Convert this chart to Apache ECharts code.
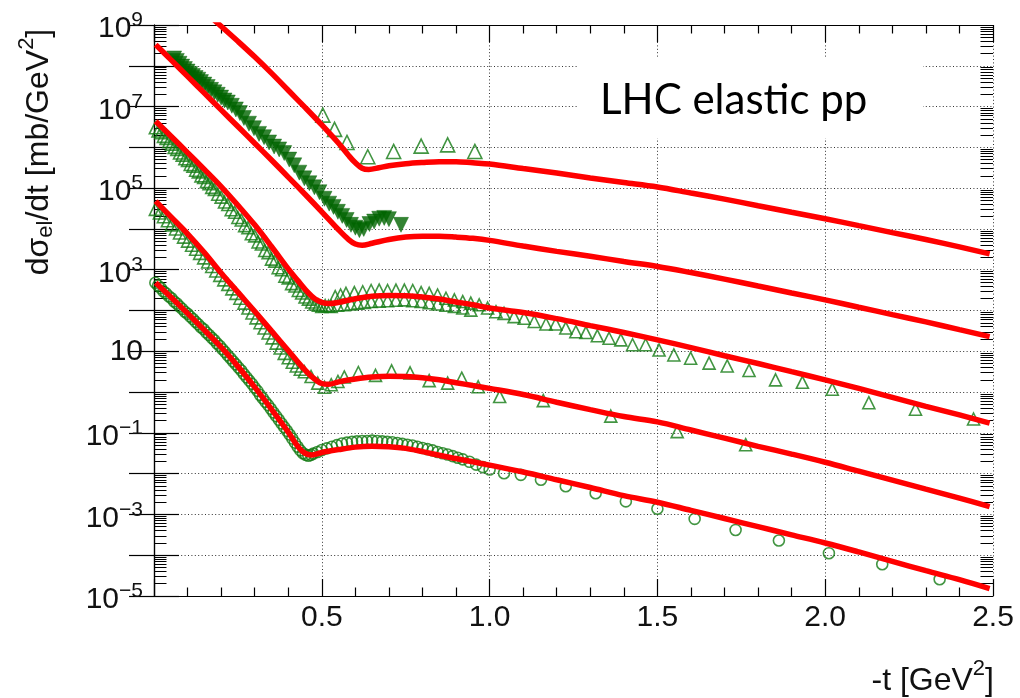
<!DOCTYPE html>
<html>
<head>
<meta charset="utf-8">
<script src="https://cdn.jsdelivr.net/npm/echarts@6/dist/echarts.min.js"></script>
<style>
  html, body { margin: 0; padding: 0; background: #ffffff; }
  #chart { width: 1020px; height: 698px; }
</style>
</head>
<body>
<div id="chart"></div>
<script>
// Elastic pp differential cross sections at LHC energies.
// Each point is [-t in GeV^2, log10(dsigma/dt in mb/GeV^2)]; curves are shifted by powers of ten.

const xTicks = [0, 0.5, 1.0, 1.5, 2.0, 2.5];
const yDecades = [-5, -4, -3, -2, -1, 0, 1, 2, 3, 4, 5, 6, 7, 8, 9];
const yLabelDecades = [9, 7, 5, 3, 1, -1, -3, -5];
const minorMantissas = [2, 3, 4, 5, 6, 7, 8, 9];

// model curves
const fit1 = [[0.17,9.19],[0.2,8.97],[0.25,8.6],[0.3,8.22],[0.35,7.82],[0.4,7.4],[0.45,6.98],[0.5,6.55],[0.55,6.1],[0.58,5.8],[0.6,5.62],[0.62,5.49],[0.64,5.46],[0.67,5.5],[0.7,5.55],[0.75,5.6],[0.8,5.63],[0.85,5.65],[0.9,5.65],[0.95,5.62],[1.0,5.59],[1.1,5.48],[1.2,5.37],[1.3,5.25],[1.4,5.14],[1.5,5.03],[1.6,4.88],[1.7,4.73],[1.8,4.57],[1.9,4.41],[2.0,4.25],[2.1,4.08],[2.2,3.91],[2.3,3.74],[2.4,3.56],[2.49,3.39]];
const fit2 = [[0.005,8.52],[0.05,8.15],[0.1,7.74],[0.15,7.33],[0.2,6.92],[0.25,6.51],[0.3,6.1],[0.35,5.69],[0.4,5.27],[0.45,4.85],[0.5,4.42],[0.55,3.98],[0.58,3.74],[0.6,3.63],[0.62,3.6],[0.65,3.65],[0.7,3.74],[0.75,3.8],[0.8,3.82],[0.85,3.82],[0.9,3.8],[0.95,3.77],[1.0,3.72],[1.1,3.58],[1.2,3.45],[1.3,3.33],[1.4,3.2],[1.5,3.08],[1.6,2.93],[1.7,2.77],[1.8,2.6],[1.9,2.43],[2.0,2.26],[2.1,2.08],[2.2,1.9],[2.3,1.72],[2.4,1.53],[2.49,1.36]];
const fit3 = [[0.005,6.64],[0.05,6.28],[0.1,5.87],[0.15,5.46],[0.2,5.04],[0.25,4.58],[0.3,4.1],[0.35,3.57],[0.4,3.02],[0.43,2.72],[0.46,2.43],[0.48,2.28],[0.5,2.2],[0.52,2.17],[0.55,2.2],[0.6,2.29],[0.65,2.35],[0.7,2.37],[0.75,2.36],[0.8,2.33],[0.85,2.28],[0.9,2.21],[0.95,2.14],[1.0,2.06],[1.1,1.95],[1.2,1.8],[1.3,1.63],[1.4,1.46],[1.5,1.28],[1.6,1.09],[1.7,0.89],[1.8,0.7],[1.9,0.5],[2.0,0.3],[2.1,0.09],[2.2,-0.13],[2.3,-0.35],[2.4,-0.56],[2.49,-0.76]];
const fit4 = [[0.005,4.68],[0.05,4.3],[0.1,3.88],[0.15,3.42],[0.2,2.92],[0.25,2.45],[0.3,1.98],[0.35,1.5],[0.4,1.02],[0.44,0.63],[0.47,0.38],[0.5,0.21],[0.52,0.19],[0.55,0.25],[0.6,0.32],[0.65,0.37],[0.7,0.39],[0.75,0.38],[0.8,0.35],[0.85,0.3],[0.9,0.23],[0.95,0.16],[1.0,0.09],[1.1,-0.06],[1.2,-0.25],[1.3,-0.43],[1.4,-0.6],[1.5,-0.73],[1.6,-0.93],[1.7,-1.13],[1.8,-1.33],[1.9,-1.52],[2.0,-1.72],[2.1,-1.94],[2.2,-2.16],[2.3,-2.38],[2.4,-2.6],[2.49,-2.81]];
const fit5 = [[0.005,2.68],[0.05,2.33],[0.1,1.93],[0.15,1.52],[0.2,1.1],[0.25,0.63],[0.3,0.12],[0.35,-0.42],[0.4,-0.98],[0.43,-1.35],[0.45,-1.5],[0.47,-1.54],[0.5,-1.48],[0.55,-1.41],[0.6,-1.35],[0.65,-1.33],[0.7,-1.34],[0.75,-1.38],[0.8,-1.46],[0.85,-1.55],[0.9,-1.63],[0.95,-1.71],[1.0,-1.79],[1.1,-1.96],[1.2,-2.15],[1.3,-2.34],[1.4,-2.54],[1.5,-2.7],[1.6,-2.9],[1.7,-3.1],[1.8,-3.3],[1.9,-3.5],[2.0,-3.7],[2.1,-3.92],[2.2,-4.15],[2.3,-4.38],[2.4,-4.6],[2.49,-4.82]];

// measurements
const data1 = [[0.503,6.79],[0.538,6.44],[0.575,6.12],[0.637,5.77],[0.714,5.90],[0.796,6.03],[0.875,6.06],[0.956,5.90]];
const data2 = [[0.060,8.18],[0.068,8.12],[0.076,8.05],[0.084,7.98],[0.092,7.92],[0.100,7.86],[0.108,7.80],[0.116,7.75],[0.124,7.70],[0.132,7.66],[0.140,7.60],[0.150,7.54],[0.160,7.48],[0.170,7.41],[0.180,7.35],[0.190,7.29],[0.200,7.22],[0.210,7.15],[0.220,7.10],[0.232,7.02],[0.244,6.93],[0.256,6.84],[0.268,6.72],[0.283,6.58],[0.298,6.47],[0.313,6.33],[0.328,6.25],[0.343,6.12],[0.358,6.02],[0.373,5.95],[0.388,5.86],[0.403,5.70],[0.418,5.56],[0.433,5.38],[0.448,5.24],[0.463,5.12],[0.478,5.02],[0.493,4.90],[0.508,4.74],[0.522,4.62],[0.535,4.54],[0.548,4.42],[0.561,4.32],[0.574,4.22],[0.587,4.10],[0.600,4.03],[0.612,3.97],[0.625,4.00],[0.642,4.12],[0.656,4.18],[0.671,4.25],[0.686,4.27],[0.700,4.24],[0.736,4.10]];
const data3 = [[0.004,6.48],[0.012,6.40],[0.020,6.36],[0.028,6.27],[0.036,6.22],[0.044,6.14],[0.052,6.08],[0.060,6.00],[0.068,5.95],[0.076,5.86],[0.084,5.81],[0.092,5.72],[0.100,5.68],[0.108,5.58],[0.116,5.54],[0.124,5.44],[0.132,5.40],[0.140,5.30],[0.148,5.26],[0.156,5.16],[0.164,5.11],[0.172,5.02],[0.180,4.97],[0.190,4.85],[0.200,4.78],[0.210,4.66],[0.220,4.60],[0.230,4.47],[0.240,4.41],[0.250,4.28],[0.260,4.22],[0.270,4.08],[0.280,4.03],[0.290,3.88],[0.300,3.83],[0.310,3.68],[0.320,3.63],[0.330,3.47],[0.340,3.42],[0.350,3.26],[0.360,3.21],[0.370,3.05],[0.380,3.00],[0.390,2.84],[0.400,2.80],[0.410,2.66],[0.420,2.60],[0.430,2.49],[0.440,2.43],[0.450,2.33],[0.460,2.28],[0.470,2.21],[0.480,2.16],[0.490,2.13],[0.500,2.10],[0.510,2.12],[0.520,2.11],
  [0.528,2.10],[0.547,2.13],[0.567,2.14],[0.587,2.16],[0.607,2.18],[0.627,2.20],[0.647,2.22],[0.671,2.23],[0.696,2.24],[0.721,2.25],[0.746,2.26],[0.771,2.24],[0.796,2.22],[0.820,2.19],[0.845,2.16],[0.870,2.13],[0.895,2.10],[0.920,2.06],[0.944,2.01],
  [0.540,2.34],[0.556,2.38],[0.572,2.42],[0.597,2.44],[0.622,2.46],[0.647,2.49],[0.671,2.50],[0.696,2.49],[0.721,2.50],[0.746,2.50],[0.771,2.49],[0.796,2.44],[0.820,2.42],[0.845,2.38],[0.870,2.30],[0.895,2.26],[0.920,2.22],[0.944,2.18],[0.969,2.14],[0.994,2.06],[1.019,1.97],[1.043,1.93],[1.073,1.85],[1.103,1.81],[1.133,1.73],
  [1.168,1.67],[1.197,1.67],[1.227,1.57],[1.257,1.48],[1.287,1.46],[1.321,1.38],[1.356,1.32],[1.391,1.28],[1.426,1.16],[1.465,1.16],[1.505,1.03],[1.549,0.91],[1.599,0.83],[1.654,0.71],[1.708,0.64],[1.773,0.53],[1.852,0.30],[1.932,0.24],[2.021,0.07],[2.130,-0.26],[2.269,-0.42],[2.442,-0.66]];
const data4 = [[0.004,4.48],[0.016,4.39],[0.028,4.30],[0.040,4.20],[0.052,4.10],[0.064,4.00],[0.076,3.90],[0.088,3.80],[0.100,3.70],[0.112,3.60],[0.124,3.50],[0.136,3.40],[0.148,3.29],[0.160,3.19],[0.172,3.08],[0.184,2.97],[0.196,2.86],[0.208,2.75],[0.220,2.64],[0.232,2.53],[0.244,2.42],[0.256,2.30],[0.268,2.18],[0.280,2.06],[0.292,1.94],[0.304,1.82],[0.316,1.70],[0.328,1.57],[0.340,1.45],[0.352,1.33],[0.364,1.20],[0.376,1.08],[0.388,0.95],[0.400,0.84],[0.412,0.73],[0.424,0.64],[0.436,0.56],
  [0.448,0.50],[0.468,0.38],[0.488,0.22],[0.508,0.12],[0.528,0.18],[0.548,0.26],[0.567,0.37],[0.609,0.48],[0.660,0.41],[0.708,0.52],[0.763,0.47],[0.820,0.28],[0.875,0.22],[0.917,0.34],[0.966,0.13],[1.030,-0.11],[1.160,-0.21],[1.361,-0.59],[1.559,-0.97],[1.763,-1.29]];
const data5 = [[0.004,2.68],[0.012,2.61],[0.020,2.55],[0.028,2.47],[0.036,2.42],[0.044,2.35],[0.052,2.30],[0.060,2.22],[0.068,2.17],[0.076,2.10],[0.084,2.04],[0.092,1.97],[0.100,1.92],[0.108,1.85],[0.116,1.79],[0.124,1.72],[0.132,1.66],[0.140,1.59],[0.148,1.54],[0.156,1.46],[0.164,1.40],[0.172,1.33],[0.180,1.27],[0.188,1.19],[0.196,1.13],[0.204,1.05],[0.212,0.98],[0.220,0.90],[0.228,0.83],[0.236,0.75],[0.244,0.68],[0.252,0.60],[0.260,0.53],[0.268,0.44],[0.276,0.36],[0.284,0.28],[0.292,0.20],[0.300,0.11],[0.308,0.03],[0.316,-0.07],[0.324,-0.15],[0.332,-0.24],[0.340,-0.32],[0.348,-0.41],[0.356,-0.50],[0.364,-0.59],[0.372,-0.68],[0.380,-0.77],[0.388,-0.86],[0.396,-0.95],[0.404,-1.04],[0.412,-1.14],[0.420,-1.24],[0.428,-1.34],[0.436,-1.43],[0.444,-1.50],[0.452,-1.54],[0.460,-1.56],[0.468,-1.54],
  [0.475,-1.51],[0.487,-1.47],[0.500,-1.42],[0.515,-1.38],[0.530,-1.34],[0.545,-1.30],[0.560,-1.26],[0.575,-1.24],[0.590,-1.22],[0.605,-1.21],[0.620,-1.20],[0.635,-1.20],[0.650,-1.19],[0.665,-1.20],[0.680,-1.21],[0.695,-1.22],[0.710,-1.23],[0.725,-1.25],[0.740,-1.27],[0.755,-1.29],[0.770,-1.31],[0.785,-1.34],[0.800,-1.37],[0.815,-1.40],[0.830,-1.43],[0.845,-1.47],[0.860,-1.50],[0.875,-1.53],[0.890,-1.57],[0.905,-1.61],[0.920,-1.65],[0.940,-1.71],[0.960,-1.78],[0.980,-1.84],[1.000,-1.90],
  [1.043,-1.99],[1.093,-2.03],[1.153,-2.15],[1.227,-2.31],[1.316,-2.48],[1.406,-2.68],[1.500,-2.86],[1.611,-3.11],[1.733,-3.38],[1.862,-3.64],[2.011,-3.95],[2.170,-4.22],[2.341,-4.59]];

const GREEN = '#137a13';
const DARK_GREEN = '#006400';
const RED = '#ff0000';
const LABEL_FONT = '"Liberation Sans", Arial, Helvetica, sans-serif';

const toLin = pts => pts.map(p => [p[0], Math.pow(10, p[1])]);
const decadeValues = yDecades.map(d => Math.pow(10, d));
const labelValues = yLabelDecades.map(d => Math.pow(10, d));
const minorValues = [];
yDecades.slice(0, -1).forEach(d => minorMantissas.forEach(m => minorValues.push(m * Math.pow(10, d))));

const gridLine = { show: true, lineStyle: { color: '#333333', width: 1, type: [1, 2.4] } };

function fitSeries(name, pts) {
  return {
    name, type: 'line', data: toLin(pts), showSymbol: false, smooth: 0.35, clip: true,
    lineStyle: { color: RED, width: 5.5 }, z: 5, silent: true
  };
}
function dataSeries(name, pts, symbol, size, filled, rotate) {
  return {
    name, type: 'scatter', data: toLin(pts), symbol, symbolSize: size, symbolRotate: rotate || 0,
    itemStyle: filled ? { color: DARK_GREEN, borderColor: DARK_GREEN, borderWidth: 0.5 }
                      : { color: 'rgba(0,0,0,0)', borderColor: GREEN, borderWidth: 1.6 },
    z: 3, silent: true
  };
}

const xBase = {
  type: 'value', min: 0, max: 2.5, interval: 0.5, gridIndex: 0,
  axisLine: { show: true, lineStyle: { color: '#000', width: 1.2 } },
  axisTick: { show: true, inside: true, length: 17, lineStyle: { color: '#000', width: 1.2 } },
  minorTick: { show: true, splitNumber: 5, length: 8.5, lineStyle: { color: '#000', width: 1.2 } }
};
const yBase = {
  type: 'log', logBase: 10, min: 1e-5, max: 1e9, gridIndex: 0
};

const chart = echarts.init(document.getElementById('chart'), null, { renderer: 'canvas' });
chart.setOption({
  animation: false,
  backgroundColor: '#ffffff',
  grid: { left: 154, top: 25, width: 839, height: 571, containLabel: false },
  xAxis: [
    Object.assign({}, xBase, {
      position: 'bottom',
      splitLine: gridLine,
      axisLabel: {
        show: true, margin: 7, color: '#111', fontSize: 30, fontFamily: LABEL_FONT,
        formatter: v => (v === 0 ? '' : v.toFixed(1))
      }
    }),
    Object.assign({}, xBase, {
      position: 'top', splitLine: { show: false }, axisLabel: { show: false }
    })
  ],
  yAxis: [
    Object.assign({}, yBase, {
      position: 'left',
      axisLine: { show: true, lineStyle: { color: '#000', width: 1.2 } },
      axisTick: { show: true, inside: true, length: 25, customValues: decadeValues, lineStyle: { color: '#000', width: 1.2 } },
      splitLine: gridLine,
      axisLabel: {
        show: true, margin: 11, customValues: labelValues, color: '#111', fontFamily: LABEL_FONT,
        formatter: v => {
          const e = Math.round(Math.log10(v));
          if (e === 1) return '{p|10}';
          const s = e < 0 ? '\u2212' + (-e) : String(e);
          return '{m|10}{s|' + s + '}';
        },
        rich: {
          p: { fontSize: 30, fontFamily: LABEL_FONT, color: '#111' },
          m: { fontSize: 30, lineHeight: 30, fontFamily: LABEL_FONT, color: '#111', padding: [8, 0, 0, 0] },
          s: { fontSize: 21, lineHeight: 21, fontFamily: LABEL_FONT, color: '#111', padding: [4, 0, 13, 0] }
        }
      }
    }),
    Object.assign({}, yBase, {
      position: 'right',
      axisLine: { show: true, lineStyle: { color: '#000', width: 1.2 } },
      axisTick: { show: true, inside: true, length: 25, customValues: decadeValues, lineStyle: { color: '#000', width: 1.2 } },
      splitLine: { show: false }, axisLabel: { show: false }
    }),
    Object.assign({}, yBase, {
      position: 'left',
      axisLine: { show: false },
      axisTick: { show: true, inside: true, length: 12.5, customValues: minorValues, lineStyle: { color: '#000', width: 1 } },
      splitLine: { show: false }, axisLabel: { show: false }
    }),
    Object.assign({}, yBase, {
      position: 'right',
      axisLine: { show: false },
      axisTick: { show: true, inside: true, length: 12.5, customValues: minorValues, lineStyle: { color: '#000', width: 1 } },
      splitLine: { show: false }, axisLabel: { show: false }
    })
  ],
  series: [
    dataSeries('data1', data1, 'triangle', 14, false),
    dataSeries('data2', data2, 'triangle', 15, true, 180),
    dataSeries('data3', data3, 'triangle', 12, false),
    dataSeries('data4', data4, 'triangle', 12, false),
    dataSeries('data5', data5, 'circle', 11, false),
    fitSeries('fit1', fit1),
    fitSeries('fit2', fit2),
    fitSeries('fit3', fit3),
    fitSeries('fit4', fit4),
    fitSeries('fit5', fit5)
  ],
  graphic: [
    {
      type: 'rect', z: 50, silent: true,
      shape: { x: 578, y: 57, width: 345, height: 81 },
      style: { fill: '#ffffff' }
    },
    {
      type: 'text', z: 51, silent: true, x: 600, y: 100,
      style: { text: 'LHC elastic pp', fontSize: 42, fontFamily: 'Lato, "Open Sans", sans-serif', fill: '#000', align: 'left', verticalAlign: 'middle' }
    },
    {
      type: 'text', z: 51, silent: true, x: 37, y: 152, rotation: Math.PI / 2,
      style: {
        text: '{m|d\u03c3}{b|el}{m|/dt [mb/GeV}{t|2}{m|]}',
        align: 'center', verticalAlign: 'middle', fill: '#111',
        rich: {
          m: { fontSize: 32, lineHeight: 32, fontFamily: LABEL_FONT, fill: '#111', padding: [10, 0, 6, 0] },
          b: { fontSize: 22, lineHeight: 22, fontFamily: LABEL_FONT, fill: '#111', padding: [22, 0, 4, 0] },
          t: { fontSize: 22, lineHeight: 22, fontFamily: LABEL_FONT, fill: '#111', padding: [3, 0, 23, 0] }
        }
      }
    },
    {
      type: 'text', z: 51, silent: true, x: 994, y: 679,
      style: {
        text: '{m|-t [GeV}{t|2}{m|]}',
        align: 'right', verticalAlign: 'middle', fill: '#111',
        rich: {
          m: { fontSize: 32, lineHeight: 32, fontFamily: LABEL_FONT, fill: '#111', padding: [10, 0, 6, 0] },
          t: { fontSize: 22, lineHeight: 22, fontFamily: LABEL_FONT, fill: '#111', padding: [3, 0, 23, 0] }
        }
      }
    }
  ]
});
</script>
</body>
</html>
